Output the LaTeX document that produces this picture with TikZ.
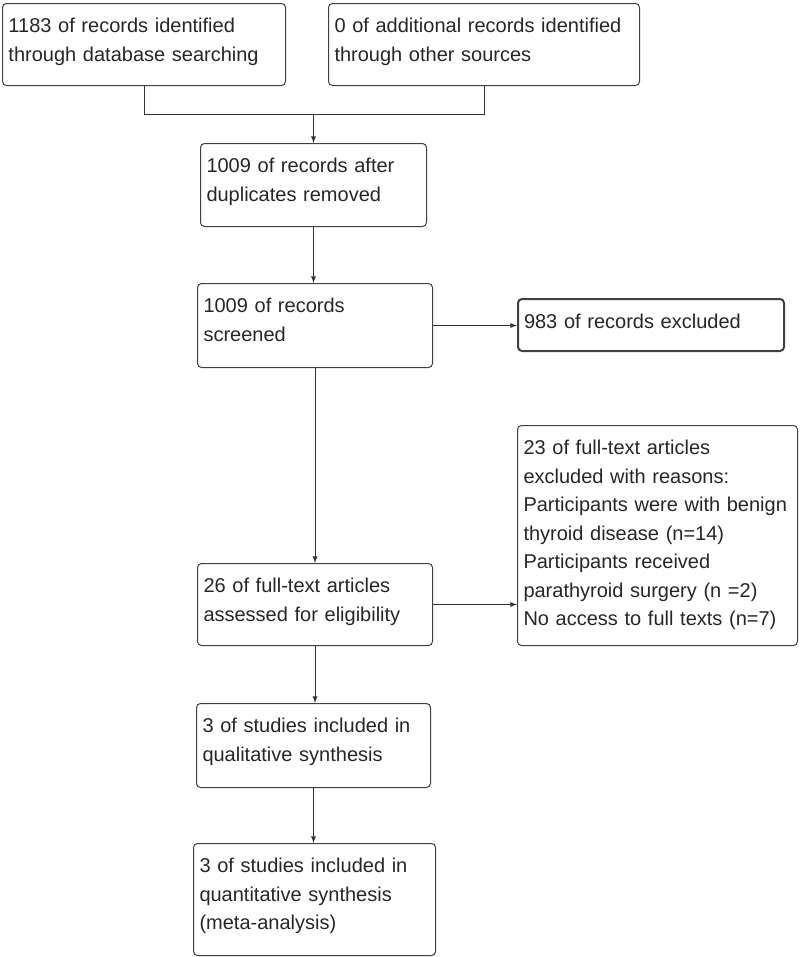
\documentclass[tikz,border=0pt]{standalone}
\usepackage{fontspec}
\setmainfont{Liberation Sans}

\begin{document}
\begin{tikzpicture}[x=0.75pt, y=-0.75pt,
  box/.style={draw=black!75, line width=0.75pt, rounded corners=3pt, anchor=north west, align=left, inner xsep=4.5pt, inner ysep=6pt, text height=15.75pt, font=\fontsize{15}{21.4}\selectfont, text=black!85},
  arr/.style={draw=black!80, line width=0.75pt, -latex}]
\useasboundingbox (0,0) rectangle (800,957);
\node[box, text width=203.25pt, text depth=33.75pt] (ident) at (2,3) {1183 of records identified\\through database searching};
\node[box, text width=224.25pt, text depth=33.75pt] (other) at (328,3) {0 of additional records identified\\through other sources};
\node[box, text width=160.5pt, text depth=34.5pt] (dedup) at (200,143) {1009 of records after\\duplicates removed};
\node[box, text width=167.25pt, text depth=35.25pt] (screen) at (197,283) {1009 of records\\screened};
\node[box, text width=190.5pt, text depth=11.25pt, line width=1.5pt] (excl) at (517,298) {983 of records excluded};
\node[box, text width=201pt, text depth=137.25pt] (ftexcl) at (517,425) {23 of full-text articles\\excluded with reasons:\\Participants were with benign\\thyroid disease (n=14)\\Participants received\\parathyroid surgery (n =2)\\No access to full texts (n=7)};
\node[box, text width=167.25pt, text depth=33.75pt] (fulltext) at (197,563) {26 of full-text articles\\assessed for eligibility};
\node[box, text width=166.5pt, text depth=35.25pt] (qual) at (196,703) {3 of studies included in\\qualitative synthesis};
\node[box, text width=172.5pt, text depth=56.25pt] (quant) at (193,843) {3 of studies included in\\quantitative synthesis\\(meta-analysis)};
\coordinate (join) at (dedup.north |- 0,114);
\draw[draw=black!80, line width=0.75pt] (ident.south) -- (ident.south |- join) -- (other.south |- join) -- (other.south);
\draw[arr] (join) -- (dedup.north);
\draw[arr] (dedup.south) -- (dedup.south |- screen.north);
\draw[arr] (screen.east) -- (screen.east -| excl.west);
\draw[arr] (screen.south) -- (screen.south |- fulltext.north);
\draw[arr] (fulltext.east) -- (fulltext.east -| ftexcl.west);
\draw[arr] (fulltext.south) -- (fulltext.south |- qual.north);
\draw[arr] (qual.south) -- (qual.south |- quant.north);
\end{tikzpicture}
\end{document}
